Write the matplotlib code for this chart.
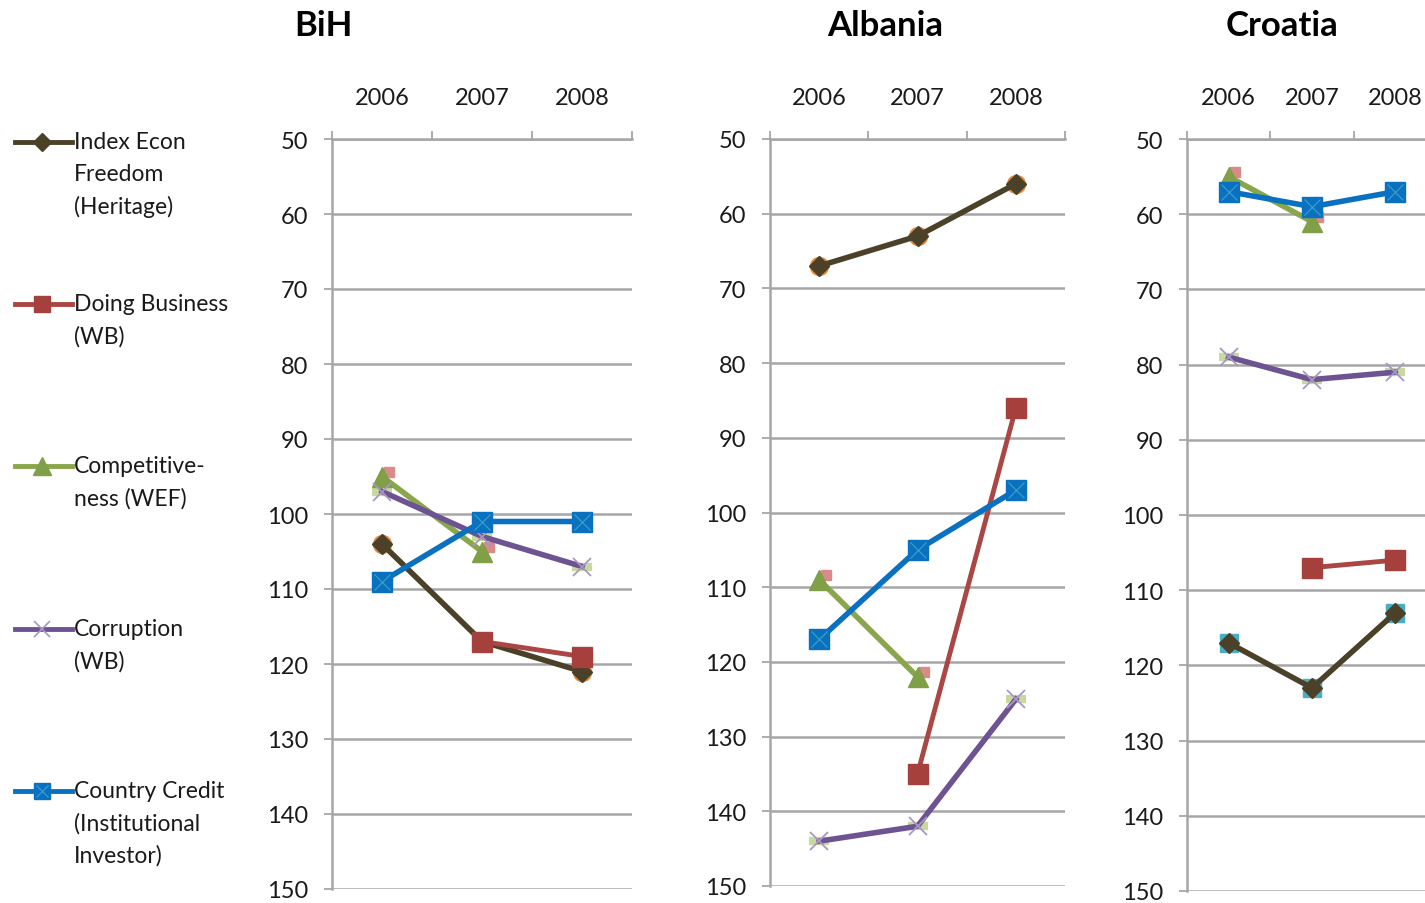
import numpy as np
import matplotlib
matplotlib.use("Agg")
import matplotlib.pyplot as plt

plt.rcParams['font.family'] = ['Lato', 'DejaVu Sans']

years = ["2006", "2007", "2008"]
countries = ["BiH", "Albania", "Croatia"]
series_names = [
    "Index Econ\nFreedom\n(Heritage)",
    "Doing Business\n(WB)",
    "Competitive-\nness (WEF)",
    "Corruption\n(WB)",
    "Country Credit\n(Institutional\nInvestor)",
]

nan = np.nan
# ranks per country: rows follow series_names, columns follow years
bih = [
    [104, 117, 121],
    [nan, 117, 119],
    [95, 105, nan],
    [97, 103, 107],
    [109, 101, 101],
]
albania = [
    [67, 63, 56],
    [nan, 135, 86],
    [109, 122, nan],
    [144, 142, 125],
    [117, 105, 97],
]
croatia = [
    [117, 123, 113],
    [nan, 107, 106],
    [55, 61, nan],
    [79, 82, 81],
    [57, 59, 57],
]
data = [bih, albania, croatia]

line_colors = ["#4A4128", "#AA4643", "#8AA64C", "#6E5393", "#0A70C0"]
W, H = 1425, 904

# axes boxes in pixels: left, top, right, bottom
boxes = [(332, 140, 632, 890), (770, 140, 1065, 887), (1187, 140, 1437, 892)]
title_x = [323, 885, 1282]
index_shadow = [("o", "#E8893A"), ("o", "#E8893A"), ("s", "#4BACC6")]
LW = 4

fig = plt.figure(figsize=(W / 100, H / 100), dpi=100)

def draw_series(ax, k, x, y, ghost):
    if k == 0:
        gm, gc = ghost
        ax.plot(x, y, linestyle="none", marker=gm, ms=13 if gm == "o" else 12.5,
                mfc=gc, mec=gc, zorder=2)
        ax.plot(x, y, color=line_colors[0], lw=LW, marker="D", ms=10.5,
                mfc=line_colors[0], mec=line_colors[0], zorder=3)
    elif k == 1:
        ax.plot(x, y, color=line_colors[1], lw=LW - 0.5, marker="s", ms=14,
                mfc="#A5403D", mec="#A5403D", zorder=3.1)
    elif k == 2:
        xs = np.asarray(x, dtype=float) + 0.07
        ys = np.asarray(y, dtype=float) - 0.6
        ax.plot(xs, ys, linestyle="none", marker="s", ms=7, mfc="#D98B89",
                mec="#D98B89", zorder=2)
        ax.plot(x, y, color=line_colors[2], lw=LW, marker="^", ms=15,
                mfc="#7FA047", mec="#7FA047", zorder=3.2)
    elif k == 3:
        ax.plot(x, y, linestyle="none", marker="_", ms=15, mew=6,
                color="#C6DA9E", zorder=2)
        ax.plot(x, y, color=line_colors[3], lw=LW, zorder=3.3)
        ax.plot(x, y, linestyle="none", marker="x", ms=13, mew=1.3,
                color="#A897C4", zorder=3.35)
    else:
        ax.plot(x, y, color=line_colors[4], lw=LW, marker="s", ms=14.5,
                mfc=line_colors[4], mec=line_colors[4], zorder=3.4)
        ax.plot(x, y, linestyle="none", marker="x", ms=11, mew=0.8,
                color="#3DA3C9", zorder=3.5)

for ci, (name, box) in enumerate(zip(countries, boxes)):
    l, t, r, b = box
    ax = fig.add_axes([l / W, (H - b) / H, (r - l) / W, (b - t) / H])
    ax.set_xlim(-0.5, 2.5)
    ax.set_ylim(150, 50)
    xpos = np.arange(len(years))
    for k, vals in enumerate(data[ci]):
        draw_series(ax, k, xpos, vals, index_shadow[ci])

    ax.set_yticks(np.arange(50, 151, 10))
    ax.yaxis.grid(True, color="#A6A6A6", lw=1.8)
    ax.set_axisbelow(True)
    ax.tick_params(axis="y", direction="out", length=6, width=1.3,
                   color="#A6A6A6", labelsize=17, pad=11, labelcolor="#1A1A1A")

    ax.xaxis.set_ticks_position("top")
    ax.set_xticks([-0.5, 0.5, 1.5, 2.5])
    ax.set_xticklabels([])
    ax.set_xticks(xpos, minor=True)
    ax.set_xticklabels(years, minor=True)
    ax.tick_params(axis="x", which="major", direction="out", length=6,
                   width=1.3, color="#A6A6A6")
    ax.tick_params(axis="x", which="minor", length=0, labelsize=17,
                   pad=22, labelcolor="#1A1A1A")

    for s in ("right", "bottom"):
        ax.spines[s].set_visible(False)
    for s in ("left", "top"):
        ax.spines[s].set_color("#A6A6A6")
        ax.spines[s].set_linewidth(1.8)

    fig.text(title_x[ci] / W, 1 - 26 / H, name, ha="center", va="center",
             fontsize=25, fontweight="bold", color="#000000")

# legend drawn on its own axes in pixel coordinates
lax = fig.add_axes([0, 0, 250 / W, 1])
lax.set_xlim(0, 250)
lax.set_ylim(H, 0)
lax.axis("off")
legend_y = [143, 305, 467, 630, 792]
for k, (label, yy) in enumerate(zip(series_names, legend_y)):
    xs = [15, 42, 72]
    ys = [yy, yy, yy]
    c = line_colors[k]
    lax.plot(xs, ys, color=c, lw=LW - 0.5)
    if k == 0:
        lax.plot([42], [yy], marker="D", ms=9, color=c)
    elif k == 1:
        lax.plot([42], [yy], marker="s", ms=12, color="#A5403D")
    elif k == 2:
        lax.plot([42], [yy], marker="^", ms=13, color="#7FA047")
    elif k == 3:
        lax.plot([42], [yy], marker="x", ms=11, mew=1.2, color="#A897C4")
    else:
        lax.plot([42], [yy], marker="s", ms=12, color=c)
        lax.plot([42], [yy], marker="x", ms=9, mew=0.8, color="#3DA3C9")
    lax.text(74, yy - 11, label, ha="left", va="top", fontsize=16.5,
             linespacing=1.62, color="#1A1A1A")

fig.savefig("out.png", dpi=100)
